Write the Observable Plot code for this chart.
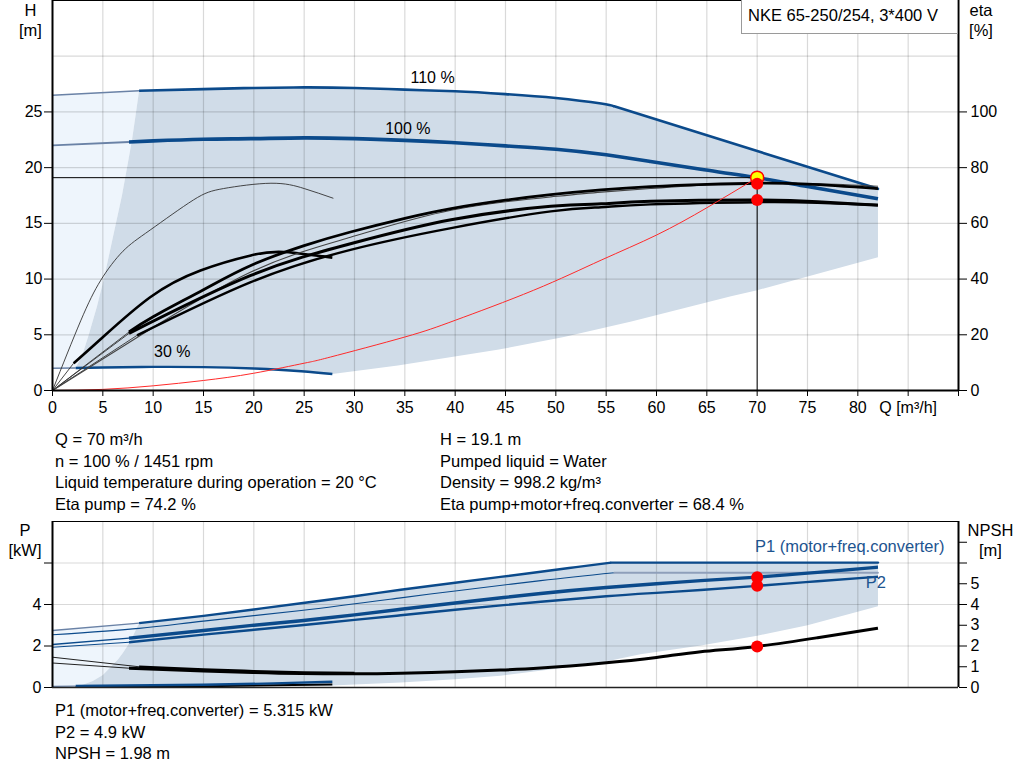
<!DOCTYPE html>
<html><head><meta charset="utf-8">
<script src="https://cdn.jsdelivr.net/npm/d3@7"></script>
<script src="https://cdn.jsdelivr.net/npm/@observablehq/plot@0.6"></script>
<style>
body{margin:0;background:#fff;font-family:"Liberation Sans",Arial,sans-serif;}
#wrap{position:relative;width:1024px;height:781px;overflow:hidden;background:#fff;}
.abs{position:absolute;font-size:16.5px;color:#000;white-space:nowrap;}
.info{line-height:21.5px;}
.c{transform:translateX(-50%);text-align:center;line-height:20px;}
#legend{left:741px;top:-1px;width:209px;height:33px;border:1px solid #9a9a9a;background:#fff;padding-left:6px;line-height:31px;font-size:16.5px;}
svg{position:absolute;left:0;}
</style></head><body><div id="wrap"></div>
<script>
// ---------- axes / ticks ----------
const Q_TICKS = [0,5,10,15,20,25,30,35,40,45,50,55,60,65,70,75,80,85,90];
const Q_LABELS = ["0","5","10","15","20","25","30","35","40","45","50","55","60","65","70","75","80","Q [m³/h]",""];
const Q_GRID = [5,10,15,20,25,30,35,40,45,50,55,60,65,70,75,80,85];
const H_TICKS = [0,5,10,15,20,25];
const H_GRID = [5,10,15,20,25,30];
const ETA_LABELS = ["0","20","40","60","80","100"];   // eta axis: 100 % at H = 25 m
const P_TICKS = [0,2,4,6];
const P_LABELS = ["0","2","4",""];
const P_GRID = [2,4,6];
const NPSH_TICKS = [0,1,2,3,4,5,6,7];
const NPSH_LABELS = ["0","1","2","3","4","5","",""];

// ---------- H curves [Q m³/h, H m] ----------
const H110_EXT = [[0,26.5],[8.6,26.9]];
const H110 = [[8.6,26.9],[15,27.05],[20,27.15],[25,27.2],[30,27.15],[35,27.0],[40,26.85],[45,26.6],[50,26.25],[54.5,25.75],[55.8,25.5]];
const H110_LIMIT = [[55.8,25.5],[82,18.1]];
const H100_EXT = [[0,22.0],[7.6,22.3]];
const H100 = [[7.6,22.3],[10,22.4],[15,22.55],[19.7,22.6],[25,22.67],[30,22.6],[35,22.45],[39.6,22.25],[45,21.95],[50,21.65],[55,21.15],[59.4,20.55],[64.4,19.85],[70,19.1],[75,18.3],[82,17.2]];
const H30_EXT = [[0,2.0],[2.3,2.02]];
const H30 = [[2.3,2.02],[5,2.07],[10,2.12],[15,2.1],[20,1.97],[24.7,1.73],[27.8,1.48]];
const EDGE_H = [[2.3,2.02],[3.0,3.3],[3.6,5],[4.4,7.5],[5.1,10],[5.7,12.5],[6.3,15],[6.9,17.5],[7.4,20],[7.9,22.5],[8.3,25],[8.6,26.9]];
const LOW_H = [[27.8,1.48],[34.3,2.25],[44.2,3.65],[50.8,4.8],[57.5,6.2],[67.4,8.45],[70,9.0],[82,11.95]];
const SYSTEM = [[0,0],[5,0.1],[10,0.42],[15,0.9],[20,1.55],[25,2.45],[27.6,3.0],[35,4.8],[40,6.3],[47.8,9.0],[54.5,11.7],[60,13.95],[65,16.4],[70,19.1]];

// ---------- eta curves [Q m³/h, eta %] ----------
const ETA30_PUMP = [[0,0],[2.8,25],[4.8,39.6],[7,50],[9.7,57.6],[14,68.4],[17,72.5],[21.7,74.4],[25,72.5],[27.9,69.0]];
const ETA30_EXT = [[0,0],[2.1,9.8]];
const ETA30 = [[2.1,9.8],[4.8,18.5],[9.7,33.5],[14.7,43.1],[19.7,48.5],[23,49.7],[27.8,47.7]];
const E1_EXT = [[0,0],[7.6,21]];
const E1 = [[7.6,21],[10,26.5],[15,36.2],[19.7,44.9],[25,52],[29.6,56.9],[35,61.8],[39.6,65.3],[45,68.3],[49.5,70.3],[54.5,72.0],[59.4,73.2],[65,74.0],[70,74.4],[75,74.1],[82,72.5]];
const E1B = [[0,0],[8.6,19.5],[19.7,42.5],[29.6,55],[39.6,64.7],[49.5,69.5],[54.5,71.2],[59.4,72.5],[65,73.8],[70,74.3],[76,74.2],[82,73.3]];
const E2_EXT = [[0,0],[7.6,20.5]];
const E2 = [[7.6,20.5],[19.7,41.3],[29.6,52.7],[39.6,61.3],[49.5,66.1],[54.5,67.0],[59.4,67.9],[70,68.4],[76,67.8],[82,66.5]];
const E2B_EXT = [[0,0],[8.4,19.8]];
const E2B = [[8.4,19.8],[19.7,38.9],[29.6,50.5],[39.6,58.3],[49.5,64.3],[54.5,65.8],[59.4,66.8],[70,67.6],[76,67.4],[82,66.6]];

// ---------- operating point ----------
const OP = {q: 70, h: 19.1};
const OP_ETA = [74.2, 68.4];
const OP_POWER = [5.315, 4.9, 1.98];   // P1, P2, NPSH

// ---------- power / NPSH curves [Q m³/h, kW or m] ----------
const P1_110_EXT = [[0,2.75],[8.6,3.1]];
const P1_110 = [[8.6,3.1],[15,3.45],[20,3.76],[24.7,4.06],[30,4.4],[34.6,4.71],[40,5.05],[44.5,5.33],[48.5,5.58],[52,5.8],[55.5,6.02]];
const P1_110_LIMIT = [[55.5,6.02],[82,6.02]];
const P2_110 = [[0,2.54],[8.6,2.85],[15,3.2],[24.7,3.71],[34.6,4.32],[40,4.65],[48.5,5.15],[55.8,5.53]];
const P2_110_LIMIT = [[55.8,5.53],[82,5.53]];
const P1_100_EXT = [[0,2.07],[7.6,2.38]];
const P1_100 = [[7.6,2.38],[15,2.75],[20,3.0],[24.7,3.22],[30,3.5],[34.6,3.77],[40,4.07],[48.5,4.53],[55,4.82],[60,5.0],[64.4,5.15],[70,5.32],[76,5.55],[82,5.8]];
const P2_100_EXT = [[0,1.94],[7.6,2.18]];
const P2_100 = [[7.6,2.18],[15,2.55],[20,2.78],[24.7,3.0],[30,3.26],[34.6,3.48],[40,3.75],[48.5,4.13],[55,4.4],[60,4.56],[64.4,4.7],[70,4.9],[76,5.12],[82,5.34]];
const NPSH110_EXT = [[0,1.46],[8.6,1.0]];
const NPSH110 = [[8.6,1.0],[15,0.87],[20,0.79],[25,0.73],[30,0.7]];
const NPSH100_EXT = [[0,1.18],[7.6,0.93]];
const NPSH100 = [[7.6,0.93],[15,0.8],[20,0.72],[24.7,0.67],[30,0.66],[34.6,0.69],[40,0.76],[44.5,0.84],[48.5,0.94],[54.5,1.17],[60,1.45],[64.4,1.72],[70,1.98],[76,2.4],[82,2.86]];
const P30_EXT = [[0,0.05],[2.3,0.07]];
const P30 = [[2.3,0.07],[15,0.13],[22,0.2],[27.8,0.28]];
const NPSH30 = [[2.3,0.02],[15,0.06],[27.8,0.14]];
const EDGE_P = [[2.3,0.06],[3.0,0.13],[4.0,0.31],[5.0,0.6],[5.8,1.0],[6.5,1.35],[7.0,1.67],[7.5,2.05],[8.0,2.5],[8.6,3.1]];
const LOW_P = [[2.3,0.06],[10,0.05],[20,0.06],[27.8,0.1],[30,0.14],[34.6,0.24],[40,0.4],[44.5,0.57],[50,0.9],[54.5,1.21],[58.4,1.6],[64.4,2.02],[70,2.5],[75,3.0],[82,3.92]];

// ---------- text ----------
const TITLE = "NKE 65-250/254, 3*400 V";
const INFO_LEFT = ["Q = 70 m³/h","n = 100 % / 1451 rpm","Liquid temperature during operation = 20 °C","Eta pump = 74.2 %"];
const INFO_RIGHT = ["H = 19.1 m","Pumped liquid = Water","Density = 998.2 kg/m³","Eta pump+motor+freq.converter = 68.4 %"];
const INFO_BOTTOM = ["P1 (motor+freq.converter) = 5.315 kW","P2 = 4.9 kW","NPSH = 1.98 m"];
const SPEED_LABELS = [{q:37.75,h:28.1,t:"110 %"},{q:35.3,h:23.5,t:"100 %"},{q:11.9,h:3.5,t:"30 %"}];
const POWER_LABELS = [{q:79.2,p:6.8,t:"P1 (motor+freq.converter)"},{q:81.8,p:5.03,t:"P2"}];

// ---------- style ----------
const BLUE = "#0b4a8b", SHADE = "#d0dce8", LIGHT = "#eef5fc", EXT = "#6a82a6", GRIDC = "#000";
const FONT = "'Liberation Sans', Arial, sans-serif";
const X = d => d[0], Y = d => d[1], YE = d => d[1] / 4;
const rev = a => a.slice().reverse();
const ln = (data, o) => Plot.line(data, {x: X, y: Y, curve: "natural", strokeLinecap: "butt", ...o});
const eta = (data, o) => Plot.line(data, {x: X, y: YE, curve: "natural", strokeLinecap: "butt", ...o});

const topDark = [...H110, ...H110_LIMIT.slice(1), ...rev(LOW_H), ...rev(H30).slice(1), ...EDGE_H.slice(1)];
const topLight = [...H30_EXT, ...EDGE_H.slice(1), ...rev(H110_EXT).slice(1)];
const botDark = [...P1_110, ...P1_110_LIMIT.slice(1), ...rev(LOW_P), ...EDGE_P.slice(1)];
const botLight = [P30_EXT[0], ...EDGE_P, ...rev(P1_110_EXT).slice(1)];

const wrap = document.getElementById("wrap");

const topChart = Plot.plot({
  width: 1024, height: 420, marginLeft: 52, marginRight: 66, marginTop: 0, marginBottom: 30,
  x: {domain: [0, 90]}, y: {domain: [0, 35]},
  style: {fontFamily: FONT, fontSize: "16px", background: "transparent", color: "#000"},
  marks: [
    Plot.line(topLight, {x: X, y: Y, fill: LIGHT, stroke: "none"}),
    Plot.line(topDark, {x: X, y: Y, fill: SHADE, stroke: "none"}),
    Plot.gridX(Q_GRID, {stroke: GRIDC, strokeOpacity: 0.15, strokeWidth: 1.2}),
    Plot.gridY(H_GRID, {stroke: GRIDC, strokeOpacity: 0.15, strokeWidth: 1.2}),
    // H curves
    ln(H110_EXT, {stroke: EXT, strokeWidth: 1.5}),
    ln(H110, {stroke: BLUE, strokeWidth: 2.6}),
    Plot.line(H110_LIMIT, {x: X, y: Y, stroke: BLUE, strokeWidth: 2.6}),
    ln(H100_EXT, {stroke: EXT, strokeWidth: 1.8}),
    ln(H100, {stroke: BLUE, strokeWidth: 3.6}),
    ln(H30_EXT, {stroke: EXT, strokeWidth: 1.5}),
    ln(H30, {stroke: BLUE, strokeWidth: 2.4}),
    // eta curves
    eta(ETA30_PUMP, {stroke: "#333", strokeWidth: 0.9}),
    eta(ETA30_EXT, {stroke: "#333", strokeWidth: 0.9}),
    eta(ETA30, {stroke: "#000", strokeWidth: 2.6}),
    eta(E1_EXT, {stroke: "#333", strokeWidth: 0.9}),
    eta(E2_EXT, {stroke: "#333", strokeWidth: 0.9}),
    eta(E2B_EXT, {stroke: "#333", strokeWidth: 0.9}),
    eta(E1B, {stroke: "#444", strokeWidth: 1.1}),
    eta(E2B, {stroke: "#000", strokeWidth: 2.4}),
    eta(E2, {stroke: "#000", strokeWidth: 3}),
    eta(E1, {stroke: "#000", strokeWidth: 2.8}),
    // system curve
    ln(SYSTEM, {stroke: "#ff2a2a", strokeWidth: 1}),
    // operating point
    Plot.ruleY([OP], {y: "h", x1: 0, x2: "q", stroke: "#000", strokeWidth: 1}),
    Plot.ruleX([OP], {x: "q", y1: 0, y2: "h", stroke: "#000", strokeWidth: 1}),
    Plot.dot([OP], {x: "q", y: "h", r: 6.5, fill: "#ffff00", stroke: "#ff0000", strokeWidth: 1.5}),
    Plot.dot(OP_ETA, {x: () => OP.q, y: d => d / 4, r: 6, fill: "#ff0000", stroke: "none"}),
    Plot.text(SPEED_LABELS, {x: "q", y: "h", text: "t", fontSize: 16, fill: "#000"}),
    // frame
    Plot.ruleY([35], {stroke: "#000", strokeWidth: 1}),
    Plot.ruleX([0, 90], {stroke: "#000", strokeWidth: 2}),
    Plot.ruleY([0], {stroke: "#000", strokeWidth: 2}),
    Plot.axisX(Q_TICKS, {anchor: "bottom", tickSize: 6, tickPadding: 5, fontSize: 16, tickFormat: (d) => Q_LABELS[Q_TICKS.indexOf(d)], label: null}),
    Plot.axisY(H_TICKS, {anchor: "left", tickSize: 8, tickPadding: 2, fontSize: 16, label: null}),
    Plot.axisY(H_TICKS, {anchor: "right", tickSize: 8, tickPadding: 4, fontSize: 16, tickFormat: (d) => ETA_LABELS[H_TICKS.indexOf(d)], label: null})
  ]
});
topChart.style.top = "0px";
wrap.appendChild(topChart);

const botChart = Plot.plot({
  width: 1024, height: 200, marginLeft: 52, marginRight: 66, marginTop: 6, marginBottom: 28,
  x: {domain: [0, 90], axis: null}, y: {domain: [0, 8]},
  style: {fontFamily: FONT, fontSize: "16px", background: "transparent", color: "#000"},
  marks: [
    Plot.line(botLight, {x: X, y: Y, fill: LIGHT, stroke: "none"}),
    Plot.line(botDark, {x: X, y: Y, fill: SHADE, stroke: "none"}),
    Plot.gridX(Q_GRID, {stroke: GRIDC, strokeOpacity: 0.15, strokeWidth: 1.2}),
    Plot.gridY(P_GRID, {stroke: GRIDC, strokeOpacity: 0.15, strokeWidth: 1.2}),
    ln(P1_110_EXT, {stroke: EXT, strokeWidth: 1.4}),
    ln(P1_110, {stroke: BLUE, strokeWidth: 2.4}),
    Plot.line(P1_110_LIMIT, {x: X, y: Y, stroke: BLUE, strokeWidth: 2.4}),
    ln(P2_110, {stroke: BLUE, strokeWidth: 1.1}),
    Plot.line(P2_110_LIMIT, {x: X, y: Y, stroke: "#8e9fba", strokeWidth: 1.8}),
    ln(P1_100_EXT, {stroke: BLUE, strokeWidth: 1.4}),
    ln(P1_100, {stroke: BLUE, strokeWidth: 3.4}),
    ln(P2_100_EXT, {stroke: BLUE, strokeWidth: 1.2}),
    ln(P2_100, {stroke: BLUE, strokeWidth: 2.4}),
    ln(NPSH110_EXT, {stroke: "#222", strokeWidth: 1}),
    ln(NPSH100_EXT, {stroke: "#222", strokeWidth: 1}),
    ln(NPSH110, {stroke: "#000", strokeWidth: 2.4}),
    ln(NPSH100, {stroke: "#000", strokeWidth: 3}),
    ln(P30_EXT, {stroke: EXT, strokeWidth: 1.2}),
    ln(NPSH30, {stroke: "#000", strokeWidth: 2}),
    ln(P30, {stroke: BLUE, strokeWidth: 2.4}),
    Plot.dot(OP_POWER, {x: () => OP.q, y: d => d, r: 6, fill: "#ff0000", stroke: "none"}),
    Plot.text(POWER_LABELS, {x: "q", y: "p", text: "t", fontSize: 16.5, fill: "#1d5490"}),
    Plot.ruleY([8], {stroke: "#000", strokeWidth: 1}),
    Plot.ruleX([0, 90], {stroke: "#000", strokeWidth: 2}),
    Plot.ruleY([0], {stroke: "#222", strokeWidth: 1.6}),
    Plot.axisY(P_TICKS, {anchor: "left", tickSize: 8, tickPadding: 3, fontSize: 16, tickFormat: (d) => P_LABELS[P_TICKS.indexOf(d)], label: null}),
    Plot.axisY(NPSH_TICKS, {anchor: "right", tickSize: 8, tickPadding: 4, fontSize: 16, tickFormat: (d) => NPSH_LABELS[NPSH_TICKS.indexOf(d)], label: null})
  ]
});
botChart.style.top = "515px";
wrap.appendChild(botChart);

// ---------- HTML text ----------
function addDiv(cls, left, top, html, extra) {
  const d = document.createElement("div");
  d.className = cls; d.style.left = left + "px"; d.style.top = top + "px";
  d.innerHTML = html; if (extra) Object.assign(d.style, extra);
  wrap.appendChild(d); return d;
}
const lg = addDiv("abs", 741, -1, ""); lg.id = "legend"; lg.textContent = TITLE;
addDiv("abs c", 30.5, 0, "H<br>[m]");
addDiv("abs c", 981, 0, "eta<br>[%]");
addDiv("abs c", 25, 520, "P<br>[kW]");
addDiv("abs c", 990.5, 520, "NPSH<br>[m]");
addDiv("abs info", 55, 429, INFO_LEFT.join("<br>"));
addDiv("abs info", 440, 429, INFO_RIGHT.join("<br>"));
addDiv("abs info", 55, 700, INFO_BOTTOM.join("<br>"));
</script></body></html>
